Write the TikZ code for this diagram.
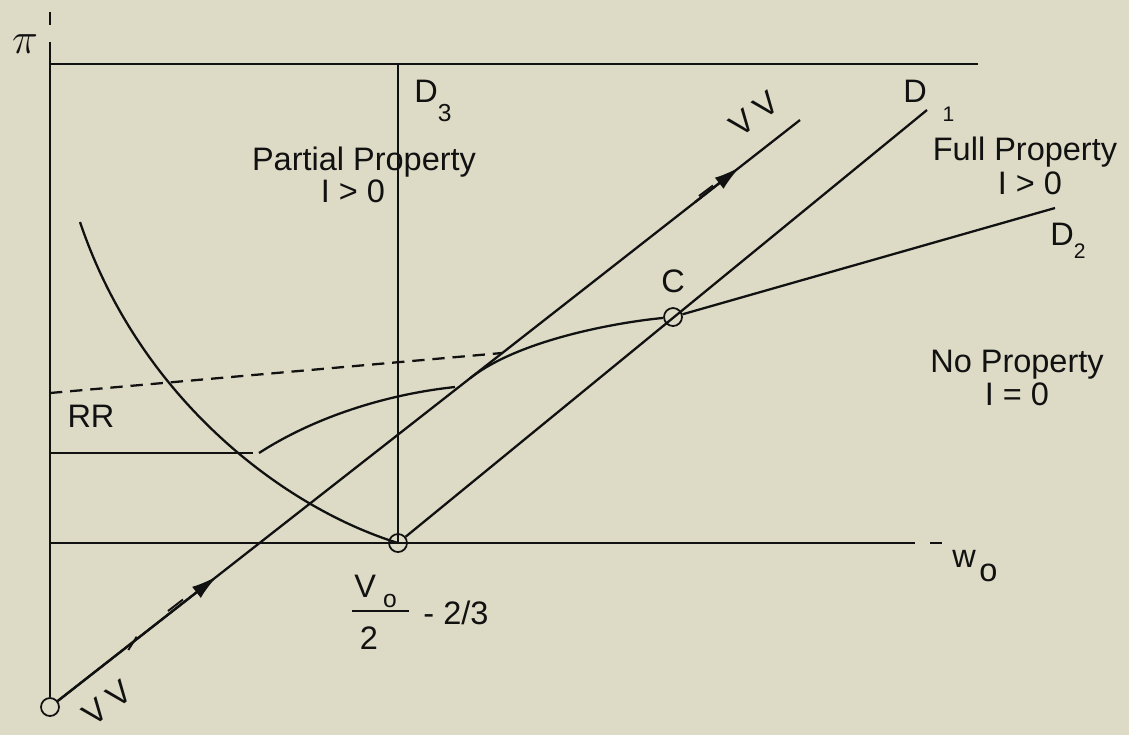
\documentclass[tikz,border=0pt]{standalone}
\usepackage{fontspec}
\setmainfont{Liberation Sans}
\usepackage{tikz}
\usetikzlibrary{arrows.meta, positioning, calc}
\definecolor{paper}{HTML}{DDDBC6}
\definecolor{ink}{HTML}{111111}
\newcommand{\lowsub}[3]{\raisebox{#1}{\fontsize{#2}{#2}\selectfont #3}}

\begin{document}
\begin{tikzpicture}[x=0.02cm, y=-0.02cm,
    every node/.style={font=\fontsize{18.5}{21}\selectfont, inner sep=0pt, text=ink},
    curve/.style={draw=ink, line width=1.3pt},
    rrdash/.style={draw=ink, line width=1.3pt, dash pattern=on 7pt off 4.5pt},
    tick/.style={draw=ink, line width=1.1pt},
    dot/.style={circle, draw=ink, line width=1pt, minimum size=0.36cm, inner sep=0pt},
    vvarrow/.style={draw=ink, line width=1.3pt, -{Latex[length=15pt, width=8pt]}}]
    % Paper
    \fill[paper] (0,0) rectangle (1129,735);
    \useasboundingbox (0,0) rectangle (1129,735);

    % Points
    \node[dot] (O) at (50,707) {};
    \node[dot] (A) at (398,543) {};
    \node[dot] (C) at (673,317) {};

    \coordinate (pitop) at (50,12);
    \coordinate (pibreak) at (50,25);
    \coordinate (pistart) at (50,42);
    \coordinate (waxL) at (50,543);
    \coordinate (waxR) at (915,543);
    \coordinate (waxdashA) at (930,543);
    \coordinate (waxdashB) at (942,543);
    \coordinate (topL) at (50,64);
    \coordinate (topR) at (978,64);
    \coordinate (dthreetop) at (398,64);
    \coordinate (VVtop) at (800,120);
    \coordinate (Donetop) at (927,110);
    \coordinate (Dtwoend) at (1055,208);
    \coordinate (rrL) at (50,453);
    \coordinate (rrR) at (253,453);
    \coordinate (rrbend) at (259,453);
    \coordinate (rrend) at (455,387);
    \coordinate (dashL) at (50,393);
    \coordinate (dashR) at (502,353);
    \coordinate (utop) at (80,222);
    \coordinate (arrlow) at ($(O.center)!0.223!(VVtop)$);
    \coordinate (arrhighstart) at ($(O.center)!0.86!(VVtop)$);
    \coordinate (arrhigh) at ($(O.center)!0.92!(VVtop)$);
    \coordinate (tang) at ($(O.center)!0.56!(VVtop)$);

    % Axes and frame lines
    \draw[curve] (pitop) -- (pibreak);
    \draw[curve] (pistart) -- (O);
    \draw[curve] (waxL) -- (waxR);
    \draw[curve] (waxdashA) -- (waxdashB);
    \draw[curve] (topL) -- (topR);
    \draw[curve] (dthreetop) -- (A.center);

    % VV line with its arrows
    \draw[curve] (O) -- (VVtop);
    \draw[vvarrow] (O) -- (arrlow);
    \draw[vvarrow] (arrhighstart) -- (arrhigh);
    \draw[tick] (168,611) -- (183,599.5);
    \draw[tick] (136.7,636.7) -- (128.3,650);
    \draw[tick] (699,196) -- (713,185.5);

    % D1, D2
    \draw[curve] (A) -- (Donetop);
    \draw[curve] (C) -- (Dtwoend);

    % Curves
    \draw[curve] (utop) .. controls (140,400) and (285,508) .. (A.center);
    \draw[curve] (rrL) -- (rrR);
    \draw[curve] (rrbend) .. controls (310,420) and (380,395) .. (rrend);
    \draw[curve] (tang) .. controls (520,339) and (620,322) .. (C);
    \draw[rrdash] (dashL) -- (dashR);

    % Fraction bar
    \draw[ink, line width=1.2pt] (352,611) -- (409,611);

    % Labels
    \node (pilabel) at (25,44) {\fontsize{28}{28}\selectfont$\pi$};
    \node[anchor=base west] (dthree) at (414,102) {D\lowsub{-11pt}{14}{3}};
    \node[anchor=base west] (done) at (903,102) {D\hspace{9pt}\lowsub{-11pt}{12}{1}};
    \node[anchor=base west] (dtwo) at (1050,245) {D\lowsub{-7.5pt}{12}{2}};
    \node[anchor=base west] (wlabel) at (952,567) {w\hspace{2pt}\lowsub{-8.5pt}{18.5}{o}};
    \node[anchor=base west] (vnum) at (354,597) {V\hspace{4pt}\lowsub{-5.7pt}{14}{o}};
    \node[anchor=base] (vden) at (369,649) {2};
    \node[anchor=base] (vminus) at (456,624) {- 2/3};
    \node[anchor=base] (clabel) at (673,292) {C};
    \node[anchor=base] (rrlabel) at (91,427) {RR};
    \node[anchor=base] (partialA) at (364,170) {Partial Property};
    \node[anchor=base] (partialB) at (353,202) {I > 0};
    \node[anchor=base] (fullA) at (1025,160) {Full Property};
    \node[anchor=base] (fullB) at (1030,194) {I > 0};
    \node[anchor=base] (noneA) at (1017,372) {No Property};
    \node[anchor=base] (noneB) at (1017,405) {I = 0};
    \node[rotate=38] (vvhigh) at (754,114) {V V};
    \node[rotate=38] (vvlow) at (107,703) {V V};
\end{tikzpicture}
\end{document}
